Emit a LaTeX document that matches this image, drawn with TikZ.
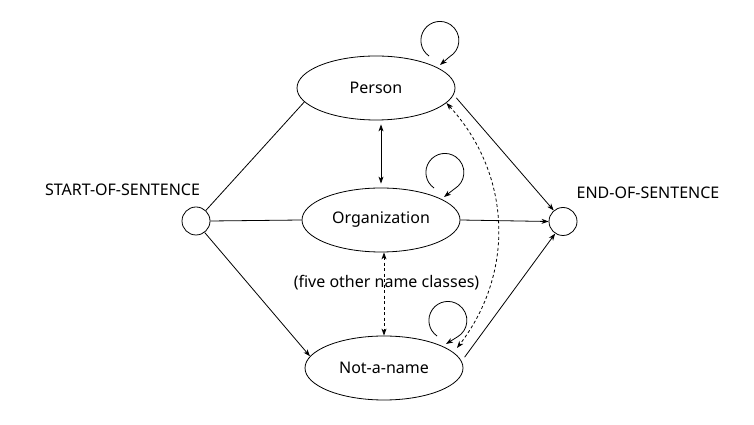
\documentclass[tikz,border=0pt]{standalone}
\usepackage{fontspec}
\setmainfont{Noto Sans}
\usetikzlibrary{arrows.meta,shapes.geometric,calc}
\begin{document}
\begin{tikzpicture}[x=1pt,y=1pt,
  >={Stealth[length=7pt,width=5pt,inset=2pt]},
  lbl/.style={font=\fontsize{16}{19}\selectfont, inner sep=0pt},
  namebox/.style={ellipse, draw, line width=0.8pt, minimum width=158pt, minimum height=64pt, inner sep=0pt, font=\fontsize{16}{19}\selectfont},
  endpt/.style={circle, draw, line width=0.8pt, minimum size=28pt, inner sep=0pt},
  conn/.style={line width=0.8pt},
  dashconn/.style={line width=0.8pt, dash pattern=on 3pt off 2.5pt}
]
\useasboundingbox (0,0) rectangle (754,425);

\node[namebox] (P) at (376,337) {Person};
\node[namebox] (O) at (381,205) {Organization};
\node[namebox] (N) at (384,57) {Not-a-name};
\node[endpt] (S) at (196,204) {};
\node[endpt] (E) at (563,203.5) {};

\node[lbl] (st) at (122.5,235) {START-OF-SENTENCE};
\node[lbl] (en) at (648,232) {END-OF-SENTENCE};
\node[lbl, anchor=base] (five) at (386.5,137) {(five other name classes)};

% self loops
\coordinate (Pl) at ($(P)+(53,32)$);
\coordinate (Pt) at ($(P)+(64,23)$);
\coordinate (Ol) at ($(O)+(53,32)$);
\coordinate (Ot) at ($(O)+(63,23)$);
\coordinate (Nl) at ($(N)+(53,32)$);
\coordinate (Nt) at ($(N)+(62,24)$);
\draw[conn,->] (Pl) arc[start angle=235, end angle=-60, radius=19] -- (Pt);
\draw[conn,->] (Ol) arc[start angle=235, end angle=-60, radius=19] -- (Ot);
\draw[conn,->] (Nl) arc[start angle=235, end angle=-60, radius=19] -- (Nt);

% from start
\draw[conn] (S.47) -- (P.191);
\draw[conn] (S.east) -- (O.west);
\draw[conn,->] (S.-53) -- (N.171);

% to end
\draw[conn,->,shorten <=4pt] (P.-5) -- (E.130);
\draw[conn,->] (O.east) -- (E.west);
\draw[conn,->,shorten <=5pt] (N.5) -- (E.237);

% between classes
\draw[conn,<->,shorten <=4pt,shorten >=4pt] (O.north |- P.south) -- (O.north);
\draw[dashconn,<->] ([xshift=3pt]O.south) -- ([xshift=3pt]O.south |- N.north);
\coordinate (Nd) at ($(N)+(73,20)$);
\draw[dashconn,<->] (P.-12) to[bend left=40] (Nd);
\end{tikzpicture}
\end{document}
